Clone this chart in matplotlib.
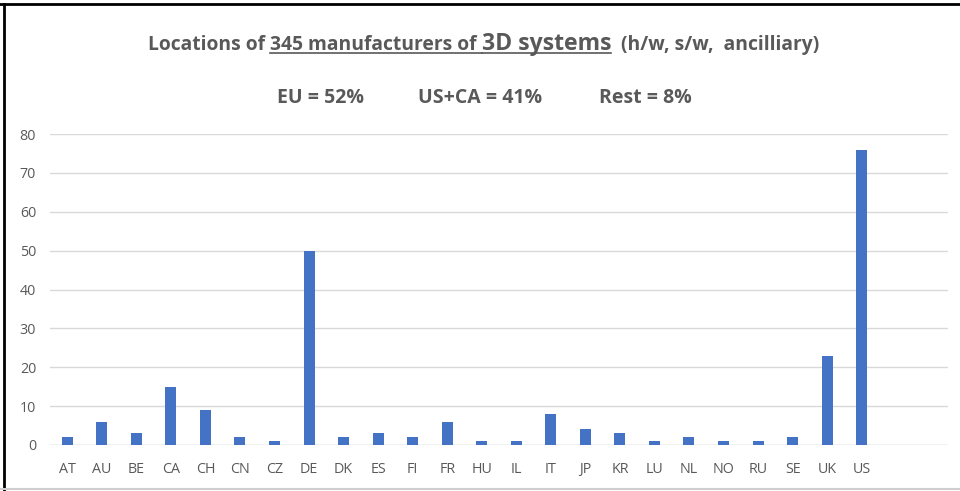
import matplotlib
matplotlib.use("Agg")
import matplotlib.pyplot as plt
from matplotlib.lines import Line2D

categories = ["AT", "AU", "BE", "CA", "CH", "CN", "CZ", "DE", "DK", "ES", "FI", "FR",
              "HU", "IL", "IT", "JP", "KR", "LU", "NL", "NO", "RU", "SE", "UK", "US"]
counts = [2, 6, 3, 15, 9, 2, 1, 50, 2, 3, 2, 6, 1, 1, 8, 4, 3, 1, 2, 1, 1, 2, 23, 76]
y_ticks = [0, 10, 20, 30, 40, 50, 60, 70, 80]
n_slots = 26  # category axis has two empty slots after US

title_parts = [("Locations of ", "small", False), ("345 manufacturers of ", "small", True),
               ("3D systems", "big", True), ("  (h/w, s/w,  ancilliary)", "small", False)]
subtitle_parts = ["EU = 52%", "US+CA = 41%", "Rest = 8%"]

GREY = "#595959"
BAR = "#4472C4"
GRID = "#d9d9d9"
FONT = ["Open Sans", "DejaVu Sans"]

W, H = 960, 491
fig = plt.figure(figsize=(W / 100, H / 100), dpi=100)
fig.patch.set_facecolor("white")

ax = fig.add_axes([50 / W, 46 / H, 898 / W, 311 / H])
ax.bar(range(len(categories)), counts, width=0.32, color=BAR, zorder=3)
ax.set_xlim(-0.5, n_slots - 0.5)
ax.set_ylim(0, 80)
ax.set_yticks(y_ticks)
ax.set_xticks(range(len(categories)))
ax.set_xticklabels(categories)
ax.grid(axis="y", color=GRID, linewidth=1, zorder=0)
ax.axhline(0, color=GRID, linewidth=1, zorder=1)
for s in ax.spines.values():
    s.set_visible(False)
ax.tick_params(axis="both", length=0, colors=GREY, labelsize=10.3)
ax.tick_params(axis="y", pad=10)
ax.tick_params(axis="x", pad=12.5)
for lab in ax.get_xticklabels() + ax.get_yticklabels():
    lab.set_family(FONT)

# title with mixed sizes and underline
sizes = {"small": 13.9, "big": 16.6}
renderer = fig.canvas.get_renderer()
texts = []
total = 0
for s, sz, ul in title_parts:
    t = fig.text(0, 0, s, fontsize=sizes[sz], fontweight="bold", color=GREY,
                 family=FONT, ha="left", va="baseline")
    w = t.get_window_extent(renderer).width
    texts.append((t, w, ul))
    total += w
x = 484 - total / 2
base_y = (H - 50) / H
for t, w, ul in texts:
    t.set_position((x / W, base_y))
    if ul:
        fig.add_artist(Line2D([x / W, (x + w) / W], [base_y - 3 / H] * 2,
                              color=GREY, linewidth=1.2, transform=fig.transFigure))
    x += w

# subtitle: three separate statements
sub_left = [277, 418, 599]
for s, xl in zip(subtitle_parts, sub_left):
    fig.text(xl / W, (H - 98) / H, s, fontsize=14.0, fontweight="bold", color=GREY,
             family=FONT, ha="left", va="center")

# screenshot frame
fig.add_artist(Line2D([0, 1], [1 - 4 / H] * 2, color="black", linewidth=2, transform=fig.transFigure))
fig.add_artist(Line2D([4 / W] * 2, [0, 1 - 4 / H], color="black", linewidth=2, transform=fig.transFigure))
fig.add_artist(Line2D([0, 1], [2 / H] * 2, color="#cfcfcf", linewidth=1.5, transform=fig.transFigure))

fig.savefig("out.png", dpi=100, facecolor="white")
